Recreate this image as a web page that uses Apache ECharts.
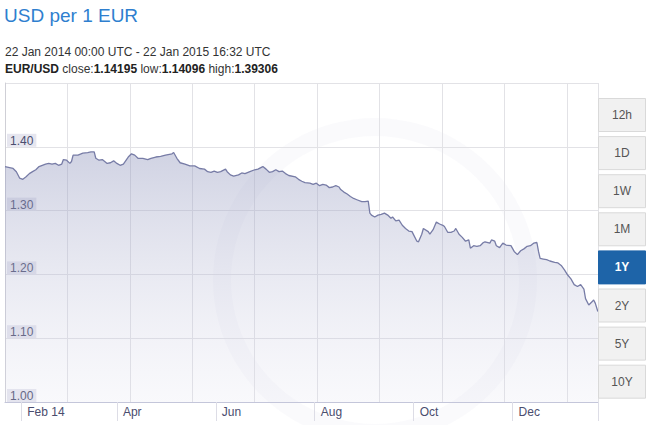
<!DOCTYPE html>
<html><head><meta charset="utf-8">
<script src="https://cdn.jsdelivr.net/npm/echarts@6/dist/echarts.min.js"></script>
<style>html,body{margin:0;padding:0;background:#fff}#c{width:650px;height:425px}</style>
</head><body><div id="c"></div>
<script>
const dates = [
'2014-01-22','2014-01-27','2014-01-29','2014-01-31','2014-02-02','2014-02-04','2014-02-06','2014-02-08','2014-02-10','2014-02-12',
'2014-02-14','2014-02-16','2014-02-18','2014-02-20','2014-02-22','2014-02-24','2014-02-26','2014-02-27','2014-03-01','2014-03-03',
'2014-03-04','2014-03-05','2014-03-08','2014-03-11','2014-03-14','2014-03-16','2014-03-18','2014-03-19','2014-03-21','2014-03-23',
'2014-03-26','2014-03-28','2014-03-30','2014-04-01','2014-04-03','2014-04-05','2014-04-08','2014-04-10','2014-04-12','2014-04-14',
'2014-04-17','2014-04-20','2014-04-22','2014-04-25','2014-04-28','2014-05-01','2014-05-05','2014-05-06','2014-05-08','2014-05-10',
'2014-05-13','2014-05-16','2014-05-19','2014-05-22','2014-05-25','2014-05-27','2014-05-29','2014-05-31','2014-06-02','2014-06-04',
'2014-06-07','2014-06-08','2014-06-10','2014-06-12','2014-06-15','2014-06-17','2014-06-19','2014-06-22','2014-06-25','2014-06-27',
'2014-06-30','2014-07-02','2014-07-04','2014-07-06','2014-07-08','2014-07-10','2014-07-12','2014-07-14','2014-07-16','2014-07-20',
'2014-07-22','2014-07-24','2014-07-26','2014-07-29','2014-07-31','2014-08-02','2014-08-04','2014-08-06','2014-08-08','2014-08-10',
'2014-08-12','2014-08-14','2014-08-16','2014-08-17','2014-08-19','2014-08-21','2014-08-23','2014-08-25','2014-08-27','2014-08-30',
'2014-09-01','2014-09-03','2014-09-04','2014-09-05','2014-09-07','2014-09-09','2014-09-11','2014-09-13','2014-09-15','2014-09-17',
'2014-09-18','2014-09-20','2014-09-22','2014-09-24','2014-09-26','2014-09-28','2014-09-30','2014-10-01','2014-10-03','2014-10-04',
'2014-10-06','2014-10-07','2014-10-10','2014-10-11','2014-10-13','2014-10-15','2014-10-17','2014-10-19','2014-10-20','2014-10-22',
'2014-10-24','2014-10-26','2014-10-27','2014-10-29','2014-10-31','2014-11-02','2014-11-04','2014-11-05','2014-11-07','2014-11-09',
'2014-11-11','2014-11-13','2014-11-14','2014-11-17','2014-11-18','2014-11-20','2014-11-21','2014-11-23','2014-11-25','2014-11-27',
'2014-11-30','2014-12-02','2014-12-04','2014-12-06','2014-12-08','2014-12-10','2014-12-12','2014-12-14','2014-12-16','2014-12-17',
'2014-12-18','2014-12-20','2014-12-22','2014-12-24','2014-12-27','2014-12-29','2014-12-31','2015-01-02','2015-01-04','2015-01-06',
'2015-01-08','2015-01-10','2015-01-12','2015-01-14','2015-01-15','2015-01-17','2015-01-19','2015-01-20','2015-01-21','2015-01-22 14:00'
];
const rates = [
1.369,1.366,1.361,1.351,1.349,1.353,1.358,1.361,1.364,1.369,
1.371,1.373,1.374,1.373,1.374,1.371,1.373,1.380,1.379,1.374,
1.377,1.387,1.387,1.390,1.391,1.392,1.392,1.382,1.379,1.380,
1.374,1.375,1.378,1.374,1.371,1.373,1.384,1.389,1.387,1.382,
1.382,1.380,1.382,1.384,1.385,1.387,1.389,1.391,1.382,1.375,
1.373,1.370,1.370,1.366,1.365,1.361,1.360,1.362,1.360,1.361,
1.365,1.361,1.356,1.354,1.356,1.359,1.358,1.361,1.364,1.365,
1.369,1.365,1.360,1.361,1.364,1.361,1.362,1.358,1.355,1.353,
1.349,1.346,1.344,1.343,1.341,1.343,1.339,1.341,1.340,1.336,
1.337,1.339,1.337,1.333,1.329,1.326,1.322,1.319,1.317,1.314,
1.314,1.315,1.296,1.293,1.290,1.293,1.294,1.296,1.293,1.288,
1.290,1.284,1.285,1.277,1.272,1.268,1.267,1.262,1.252,1.251,
1.263,1.272,1.267,1.263,1.270,1.282,1.279,1.277,1.275,1.266,
1.266,1.268,1.272,1.263,1.258,1.252,1.254,1.241,1.245,1.244,
1.245,1.250,1.251,1.249,1.254,1.252,1.245,1.242,1.249,1.246,
1.245,1.236,1.231,1.237,1.240,1.244,1.245,1.249,1.250,1.236,
1.225,1.224,1.223,1.221,1.219,1.218,1.214,1.207,1.199,1.193,
1.184,1.181,1.184,1.177,1.162,1.152,1.157,1.160,1.155,1.14195
];
const monthTicks = ['2014-02-01','2014-04-01','2014-06-01','2014-08-01','2014-10-01','2014-12-01'];
const monthLabels = ['Feb 14','Apr','Jun','Aug','Oct','Dec'];
const rangeButtons = ['12h','1D','1W','1M','1Y','2Y','5Y','10Y'];
const selectedRange = '1Y';
const rangeStart = '2014-01-22 00:00';
const rangeEnd = '2015-01-22 16:32';
const titleText = 'USD per 1 EUR';
const periodText = '22 Jan 2014 00:00 UTC - 22 Jan 2015 16:32 UTC';
const pairName = 'EUR/USD';
const statClose = '1.14195', statLow = '1.14096', statHigh = '1.39306';

const FONT = '"Liberation Sans", Arial, sans-serif';
const chart = echarts.init(document.getElementById('c'), null, {renderer: 'svg'});
const DAY = 86400000;
const tp = s => echarts.time.parse(s).getTime();
const t0 = tp(rangeStart);
const toDay = s => (tp(s) - t0) / DAY;
const tickDays = monthTicks.map(toDay);
const endDay = toDay(rangeEnd);
const seriesData = dates.map((d, i) => [toDay(d), rates[i]]);

const buttons = [];
rangeButtons.forEach((b, i) => {
  const sel = b === selectedRange;
  const top = 98.5 + i * 38.1;
  buttons.push({
    type: 'rect', shape: {x: 598.5, y: top, width: 47, height: 33},
    style: {fill: sel ? '#1e64a8' : '#f1f1f1', stroke: sel ? '#1e64a8' : '#d9d9d9', lineWidth: 1}, z: 10
  });
  buttons.push({
    type: 'text', x: 622, y: top + 16.5, z: 11,
    style: {text: b, fill: sel ? '#ffffff' : '#555555', font: (sel ? 'bold ' : '') + '12px ' + FONT,
            align: 'center', verticalAlign: 'middle'}
  });
});

chart.setOption({
  animation: false,
  backgroundColor: '#ffffff',
  title: [
    {text: titleText, left: 4, top: 6, padding: 0,
     textStyle: {color: '#2f7fcf', fontSize: 19, fontWeight: 'normal', fontFamily: FONT}},
    {text: periodText, left: 5, top: 46, padding: 0,
     textStyle: {color: '#333333', fontSize: 12, fontWeight: 'normal', fontFamily: FONT}},
    {text: '{b|' + pairName + '} close:{b|' + statClose + '} low:{b|' + statLow + '} high:{b|' + statHigh + '}',
     left: 5, top: 63, padding: 0,
     textStyle: {color: '#333333', fontSize: 12, fontWeight: 'normal', fontFamily: FONT,
       rich: {b: {fontWeight: 'bold', color: '#222222', fontSize: 12, fontFamily: FONT}}}}
  ],
  grid: {left: 5, right: 52, top: 83, bottom: 23, containLabel: false},
  xAxis: [
    {type: 'value', min: 0, max: endDay,
     axisLine: {show: true, lineStyle: {color: '#c4c6da', width: 1}},
     axisTick: {show: true, length: 19, customValues: tickDays.concat([endDay]),
                lineStyle: {color: '#dddde6'}},
     axisLabel: {show: true, customValues: tickDays, align: 'left', margin: 4,
                 padding: [0, 0, 0, 6], color: '#4a4d6e', fontSize: 12, fontFamily: FONT,
                 formatter: v => { const i = tickDays.findIndex(t => Math.abs(t - v) < 0.01); return i >= 0 ? monthLabels[i] : ''; }},
     splitLine: {show: false}},
    {type: 'value', min: 0, max: 9.5, interval: 1, position: 'bottom',
     axisLine: {show: false}, axisTick: {show: false}, axisLabel: {show: false},
     splitLine: {show: true, lineStyle: {color: '#e2e2e6', width: 1}}}
  ],
  yAxis: {type: 'value', min: 1.0, max: 1.5, interval: 0.1,
    axisLine: {show: true, lineStyle: {color: '#cfcfd6'}},
    axisTick: {show: false},
    splitLine: {show: true, lineStyle: {color: '#e2e2e6', width: 1}},
    axisLabel: {inside: true, margin: 2, showMaxLabel: false, verticalAlign: 'bottom',
      color: '#4a4d6e', fontSize: 12, fontFamily: FONT, formatter: v => v.toFixed(2),
      backgroundColor: '#e6e6ef', padding: [1, 3, 0, 3], lineHeight: 12}},
  graphic: [
    {type: 'ring', shape: {cx: 375, cy: 280, r: 162, r0: 144}, style: {fill: 'rgba(190,190,210,0.07)'}, z: 0, silent: true}
  ].concat(buttons),
  series: [{
    type: 'line', xAxisIndex: 0, data: seriesData, showSymbol: false, symbol: 'none',
    lineStyle: {color: '#777ca6', width: 1.3},
    areaStyle: {color: new echarts.graphic.LinearGradient(0, 0, 0, 1, [
      {offset: 0, color: 'rgba(140,146,186,0.58)'},
      {offset: 1, color: 'rgba(220,220,236,0.25)'}])},
    z: 2
  }]
});
</script></body></html>
